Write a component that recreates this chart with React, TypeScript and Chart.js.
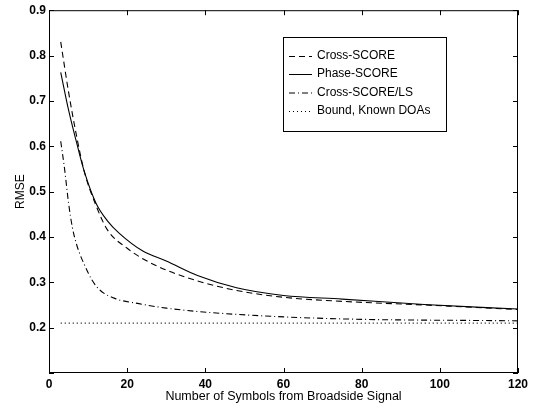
import React, { useEffect, useRef } from "react";
import { Chart, registerables } from "chart.js";

Chart.register(...registerables);

const crossX = [3, 5, 7, 9, 12, 15, 20, 24, 30, 38, 48, 60, 75, 96, 120];
const crossY = [0.83, 0.72, 0.625, 0.545, 0.47, 0.415, 0.375, 0.352, 0.327, 0.303, 0.282, 0.267, 0.258, 0.25, 0.24];

const phaseX = [3, 5, 7, 9, 12, 15, 18, 24, 30, 38, 48, 60, 75, 96, 120];
const phaseY = [0.763, 0.68, 0.61, 0.545, 0.475, 0.435, 0.408, 0.369, 0.347, 0.315, 0.288, 0.271, 0.263, 0.251, 0.241];

const lsX = [3, 4, 5, 6, 7, 8, 9, 11, 13, 17, 23, 30, 45, 72, 120];
const lsY = [0.611, 0.549, 0.475, 0.42, 0.385, 0.36, 0.34, 0.305, 0.283, 0.264, 0.253, 0.243, 0.231, 0.22, 0.215];

const boundX = [3, 120];
const boundY = [0.21, 0.21];

const seriesNames = ["Cross-SCORE", "Phase-SCORE", "Cross-SCORE/LS", "Bound, Known DOAs"];
const dashes: number[][] = [[6, 4], [], [6, 3, 1, 3], [1, 3]];

const xTicks = [0, 20, 40, 60, 80, 100, 120];
const yTicks = [0.1, 0.2, 0.3, 0.4, 0.5, 0.6, 0.7, 0.8, 0.9];

const toPts = (xs: number[], ys: number[]) => xs.map((x, i) => ({ x, y: ys[i] }));

const FONT = "'Liberation Sans', Arial, sans-serif";

const framePlugin = {
  id: "frame",
  afterDraw(chart: any) {
    const { ctx, chartArea } = chart;
    const { left, right, top, bottom } = chartArea;
    const xs = chart.scales.x;
    const ys = chart.scales.y;
    ctx.save();
    ctx.strokeStyle = "#000";
    ctx.lineWidth = 1;
    ctx.setLineDash([]);
    ctx.strokeRect(left + 0.5, top + 0.5, right - left - 1, bottom - top - 1);
    const tl = 5;
    ctx.beginPath();
    xTicks.forEach((v) => {
      const p = Math.round(xs.getPixelForValue(v)) + 0.5;
      ctx.moveTo(p, bottom);
      ctx.lineTo(p, bottom - tl);
      ctx.moveTo(p, top);
      ctx.lineTo(p, top + tl);
    });
    yTicks.forEach((v) => {
      const p = Math.round(ys.getPixelForValue(v)) + 0.5;
      ctx.moveTo(left, p);
      ctx.lineTo(left + tl, p);
      ctx.moveTo(right, p);
      ctx.lineTo(right - tl, p);
    });
    ctx.stroke();

    // legend box
    const bx = 283.5, by = 37.5, bw = 163, bh = 94;
    ctx.fillStyle = "#fff";
    ctx.fillRect(bx, by, bw, bh);
    ctx.strokeRect(bx, by, bw, bh);
    const rows = [56, 74, 92.5, 111];
    ctx.font = `12px ${FONT}`;
    ctx.textBaseline = "middle";
    ctx.textAlign = "left";
    seriesNames.forEach((name, i) => {
      const y = rows[i] + 0.5;
      ctx.setLineDash(dashes[i]);
      ctx.beginPath();
      ctx.moveTo(289, y);
      ctx.lineTo(312, y);
      ctx.stroke();
      ctx.setLineDash([]);
      ctx.fillStyle = "#000";
      ctx.fillText(name, 317, rows[i]);
    });
    ctx.restore();
  },
};

export default function App() {
  const ref = useRef<HTMLCanvasElement | null>(null);
  useEffect(() => {
    if (!ref.current) return;
    const mk = (label: string, pts: any[], i: number) => ({
      label,
      data: pts,
      borderColor: "#000",
      borderWidth: 1.1,
      borderDash: dashes[i],
      pointRadius: 0,
      fill: false,
      cubicInterpolationMode: "monotone" as const,
    });
    const chart = new Chart(ref.current, {
      type: "line",
      data: {
        datasets: [
          mk(seriesNames[0], toPts(crossX, crossY), 0),
          mk(seriesNames[1], toPts(phaseX, phaseY), 1),
          mk(seriesNames[2], toPts(lsX, lsY), 2),
          mk(seriesNames[3], toPts(boundX, boundY), 3),
        ],
      },
      options: {
        animation: false,
        responsive: true,
        maintainAspectRatio: false,
        layout: { padding: { top: 5, right: 15, left: 0, bottom: 0 } },
        plugins: { legend: { display: false }, tooltip: { enabled: false } },
        scales: {
          x: {
            type: "linear",
            min: 0,
            max: 120,
            afterBuildTicks: (s: any) => {
              s.ticks = xTicks.map((v) => ({ value: v }));
            },
            afterFit: (s: any) => {
              s.height = 38;
            },
            grid: { display: false, drawTicks: false },
            border: { display: false },
            ticks: { color: "#000", font: { family: FONT, size: 12, weight: "bold" }, padding: 4, maxRotation: 0 },
            title: {
              display: true,
              text: "Number of Symbols from Broadside Signal",
              color: "#000",
              font: { family: FONT, size: 12.5 },
              padding: { top: 0, bottom: 7 },
            },
          },
          y: {
            type: "linear",
            min: 0.1,
            max: 0.9,
            afterBuildTicks: (s: any) => {
              s.ticks = yTicks.map((v) => ({ value: v }));
            },
            afterFit: (s: any) => {
              s.width = 49;
            },
            grid: { display: false, drawTicks: false },
            border: { display: false },
            ticks: {
              color: "#000",
              font: { family: FONT, size: 12, weight: "bold" },
              padding: 3,
              callback: (v: any) => (Math.abs(v - 0.1) < 1e-6 ? "" : Number(v).toFixed(1)),
            },
            title: {
              display: true,
              text: "RMSE",
              color: "#000",
              font: { family: FONT, size: 12 },
              padding: { top: 13, bottom: 0 },
            },
          },
        },
      },
      plugins: [framePlugin],
    });
    return () => chart.destroy();
  }, []);
  return (
    <div style={{ position: "absolute", left: 0, top: 0, width: 533, height: 411, background: "#fff" }}>
      <canvas ref={ref} />
    </div>
  );
}
